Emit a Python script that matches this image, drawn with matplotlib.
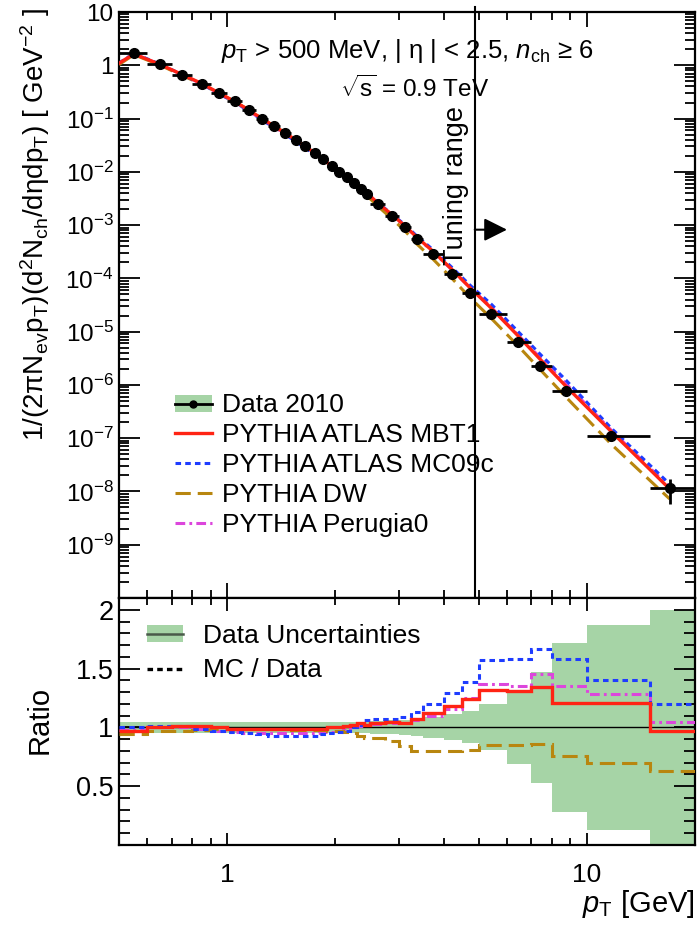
import matplotlib

matplotlib.use("Agg")

import numpy as np
import matplotlib.pyplot as plt
from matplotlib.patches import Patch
from matplotlib.lines import Line2D
from matplotlib.legend_handler import HandlerTuple
from matplotlib.ticker import FixedLocator, LogLocator, MultipleLocator, NullFormatter

plt.rcParams['font.family'] = ['Liberation Sans', 'DejaVu Sans']
plt.rcParams['mathtext.fontset'] = 'custom'
plt.rcParams['mathtext.rm'] = 'Liberation Sans'
plt.rcParams['mathtext.it'] = 'Liberation Sans:italic'
plt.rcParams['mathtext.bf'] = 'Liberation Sans:bold'
plt.rcParams['lines.scale_dashes'] = False

# pT binning [GeV]
pt_edges = [0.5, 0.6, 0.7, 0.8, 0.9, 1.0, 1.1, 1.2, 1.3, 1.4, 1.5, 1.6, 1.7, 1.8, 1.9,
            2.0, 2.1, 2.2, 2.3, 2.4, 2.5, 2.75, 3.0, 3.25, 3.5, 4.0, 4.5, 5.0, 6.0,
            7.0, 8.0, 10.0, 15.0, 20.0]
pt_points = [0.55, 0.65, 0.75, 0.85, 0.95, 1.05, 1.15, 1.25, 1.35, 1.45, 1.55, 1.65,
             1.75, 1.85, 1.95, 2.05, 2.15, 2.25, 2.35, 2.45, 2.62, 2.87, 3.12, 3.37,
             3.73, 4.23, 4.73, 5.42, 6.42, 7.4, 8.75, 11.7, 17.0]

# measured invariant yield
data = [1.68, 1.04, 0.66, 0.45, 0.30, 0.21, 0.145, 0.10, 0.073, 0.054, 0.040, 0.030,
        0.023, 0.0172, 0.0129, 0.0100, 0.0081, 0.0062, 0.0048, 0.0039, 0.0025, 0.0015,
        9.3e-4, 5.5e-4, 2.9e-4, 1.22e-4, 5.4e-5, 2.1e-5, 6.5e-6, 2.3e-6, 7.8e-7,
        1.1e-7, 1.15e-8]
data_stat = [0.02] * 27 + [0.03, 0.04, 0.05, 0.08, 0.15, 0.5]
# total relative uncertainty (green band)
band = [0.045] * 15 + [0.05] * 5 + [0.055, 0.06, 0.065, 0.075, 0.09, 0.11, 0.136,
                                    0.195, 0.31, 0.475, 0.72, 0.87, 1.0]

# MC / data per bin
ratio_mbt1 = [0.97, 1.0, 1.01, 1.01, 1.0, 0.99, 0.99, 0.99, 0.99, 0.99, 0.99, 0.99,
              0.99, 0.99, 1.0, 1.0, 1.01, 1.02, 1.04, 1.02, 1.04, 1.05, 1.04, 1.07,
              1.12, 1.18, 1.24, 1.32, 1.31, 1.34, 1.21, 1.21, 0.97]
ratio_mc09c = [1.0, 1.01, 1.01, 0.99, 0.97, 0.96, 0.95, 0.94, 0.93, 0.93, 0.93, 0.93,
               0.93, 0.94, 0.95, 0.96, 0.97, 1.0, 1.02, 1.06, 1.07, 1.07, 1.09, 1.13,
               1.2, 1.29, 1.39, 1.57, 1.58, 1.67, 1.58, 1.40, 1.20]
ratio_dw = [0.94, 0.97, 0.97, 0.98, 0.99, 0.99, 0.99, 0.99, 0.99, 0.99, 0.98, 0.98,
            0.98, 0.98, 0.97, 0.97, 0.96, 0.95, 0.93, 0.91, 0.91, 0.88, 0.84, 0.80,
            0.80, 0.80, 0.81, 0.85, 0.85, 0.86, 0.76, 0.70, 0.63]
ratio_perugia0 = [0.98, 1.0, 1.0, 0.99, 0.97, 0.96, 0.95, 0.95, 0.95, 0.95, 0.95, 0.95,
                  0.95, 0.96, 0.96, 0.97, 0.98, 1.0, 1.01, 1.02, 1.03, 1.04, 1.04, 1.06,
                  1.1, 1.16, 1.25, 1.37, 1.35, 1.45, 1.35, 1.28, 1.05]
# MC curve value at the lower pT edge
mc_start = {'mbt1': 1.09, 'mc09c': 1.1, 'dw': 1.03, 'perugia0': 1.08}

tuning_pt = 4.88

c_red = '#ff2414'
c_blue = '#1e3cff'
c_brown = '#b8860f'
c_mag = '#dc46dc'
c_green = '#a6d4a6'

models = [
    ('PYTHIA ATLAS MBT1', ratio_mbt1, 'mbt1', dict(color=c_red, lw=2.4, ls='-')),
    ('PYTHIA ATLAS MC09c', ratio_mc09c, 'mc09c', dict(color=c_blue, lw=2.2, ls=(0, (4, 3)))),
    ('PYTHIA DW', ratio_dw, 'dw', dict(color=c_brown, lw=2.2, ls=(0, (11, 5)))),
    ('PYTHIA Perugia0', ratio_perugia0, 'perugia0', dict(color=c_mag, lw=2.2, ls=(0, (7, 3, 2, 3)))),
]

edges = np.array(pt_edges)
x = np.array(pt_points)
y = np.array(data)

W, H = 700.0, 926.0
fig = plt.figure(figsize=(W / 100, H / 100), dpi=100)
ax = fig.add_axes([119 / W, 1 - 598 / H, 576 / W, 586 / H])
ax2 = fig.add_axes([119 / W, 1 - 845 / H, 576 / W, 247 / H])

# ---- spectrum ----
for label, r, key, st in models[::-1]:
    xs = np.concatenate([[edges[0]], x])
    ys = np.concatenate([[mc_start[key]], y * np.array(r)])
    ax.plot(xs, ys, zorder=3, **st)

ax.errorbar(x, y, xerr=[x - edges[:-1], edges[1:] - x], yerr=y * np.array(data_stat),
            fmt='o', color='k', ms=7, elinewidth=2, capsize=0, zorder=5)

ax.set_xscale('log')
ax.set_yscale('log')
ax.set_xlim(0.5, 20)
ax.set_ylim(1e-10, 10)

dec = np.arange(-9, 2)
ax.yaxis.set_major_locator(FixedLocator(10.0 ** dec))
ax.set_yticklabels([('1' if e == 0 else '10' if e == 1 else r'10$^{%d}$' % e) for e in dec])
ax.yaxis.set_minor_locator(LogLocator(base=10, subs=np.arange(2, 10), numticks=40))
ax.yaxis.set_minor_formatter(NullFormatter())

for a in (ax, ax2):
    a.xaxis.set_major_locator(FixedLocator([1, 10]))
    a.xaxis.set_minor_locator(LogLocator(base=10, subs=np.arange(2, 10), numticks=40))
    a.xaxis.set_minor_formatter(NullFormatter())
    a.tick_params(which='both', direction='in', top=True, right=True, width=1.3)
    for s in a.spines.values():
        s.set_linewidth(1.6)
ax.tick_params(axis='x', labelbottom=False)
ax.tick_params(axis='x', which='major', length=11)
ax.tick_params(axis='x', which='minor', length=6)
ax.tick_params(axis='y', which='major', length=15, pad=4, labelsize=17.5)
ax.tick_params(axis='y', which='minor', length=7)

ax.axvline(tuning_pt, ymin=0, ymax=1.009, color='k', lw=1.5, clip_on=False, zorder=6)
ax.annotate('', xy=(6.0, 8.2e-4), xytext=(tuning_pt, 8.2e-4),
            arrowprops=dict(arrowstyle='-|>,head_length=1.0,head_width=0.5',
                            mutation_scale=14, color='k', lw=1.5,
                            shrinkA=0, shrinkB=0))
ax.text(4.33, 5.5e-3, 'Tuning range', rotation=90, ha='center', va='center',
        fontsize=19.5)

ax.text(0.50, 0.934, r'$p_{\mathrm{T}}$ > 500 MeV, | η | < 2.5, $n_{\mathrm{ch}}$ ≥ 6',
        transform=ax.transAxes, ha='center', va='center', fontsize=18.5)
ax.text(0.514, 0.869, r'$\sqrt{\mathrm{s}}$ = 0.9 TeV', transform=ax.transAxes,
        ha='center', va='center', fontsize=17.5)

data_handle = (Patch(facecolor=c_green, edgecolor='none'),
               Line2D([], [], color='k', lw=2, marker='o', ms=5))
mc_handles = [Line2D([], [], **st) for _, _, _, st in models]
ax.legend([data_handle] + mc_handles, ['Data 2010'] + [m[0] for m in models],
          handler_map={tuple: HandlerTuple(ndivide=1)},
          loc='upper left', bbox_to_anchor=(0.097, 0.349), frameon=False,
          fontsize=19, handlelength=1.4, handleheight=0.6, handletextpad=0.38,
          labelspacing=0.22, borderpad=0, borderaxespad=0)

# ---- ratio ----
lo = edges[:-1]
wd = np.diff(edges)
b = np.array(band)
ax2.bar(lo, 2 * b, bottom=1 - b, width=wd, align='edge', color=c_green,
        linewidth=0, zorder=1)
ax2.axhline(1.0, color='k', lw=1.0, zorder=2)
for label, r, key, st in models[::-1]:
    ax2.stairs(r, edges, baseline=None, zorder=3, **st)

ax2.set_xscale('log')
ax2.set_xlim(0.5, 20)
ax2.set_ylim(0.0, 2.1)
ax2.xaxis.set_major_locator(FixedLocator([1, 10]))
ax2.set_xticklabels(['1', '10'])
ax2.yaxis.set_major_locator(FixedLocator([0.5, 1.0, 1.5, 2.0]))
ax2.set_yticklabels(['0.5', '1', '1.5', '2'])
ax2.yaxis.set_minor_locator(MultipleLocator(0.1))
ax2.tick_params(axis='x', which='major', length=9, pad=13, labelsize=19)
ax2.tick_params(axis='x', which='minor', length=5)
ax2.tick_params(axis='y', which='major', length=15, pad=4, labelsize=19.5)
ax2.tick_params(axis='y', which='minor', length=8)

unc_handle = (Patch(facecolor=c_green, edgecolor='none'),
              Line2D([], [], color='#4a5a4a', lw=1.8))
ax2.legend([unc_handle, Line2D([], [], color='k', lw=2.4, ls=(0, (4, 3)))],
           ['Data Uncertainties', 'MC / Data'],
           handler_map={tuple: HandlerTuple(ndivide=1)},
           loc='upper left', bbox_to_anchor=(0.0486, 0.895), frameon=False,
           fontsize=19, handlelength=1.36, handleheight=0.6, handletextpad=0.76,
           labelspacing=0.4, borderpad=0, borderaxespad=0)

# axis titles
fig.text(35 / W, 1 - 8 / H,
         r'1/(2πN$_{\mathrm{ev}}$p$_{\mathrm{T}}$)(d$^{2}$N$_{\mathrm{ch}}$/dηdp$_{\mathrm{T}}$) [ GeV$^{-2}$ ]',
         rotation=90, ha='center', va='top', fontsize=20)
fig.text(40 / W, 1 - 720 / H, 'Ratio', rotation=90, ha='center', va='center', fontsize=21)
fig.text(695 / W, 1 - 904 / H, r'$p_{\mathrm{T}}$ [GeV]', ha='right', va='center', fontsize=21)

fig.savefig('out.png', dpi=100)
